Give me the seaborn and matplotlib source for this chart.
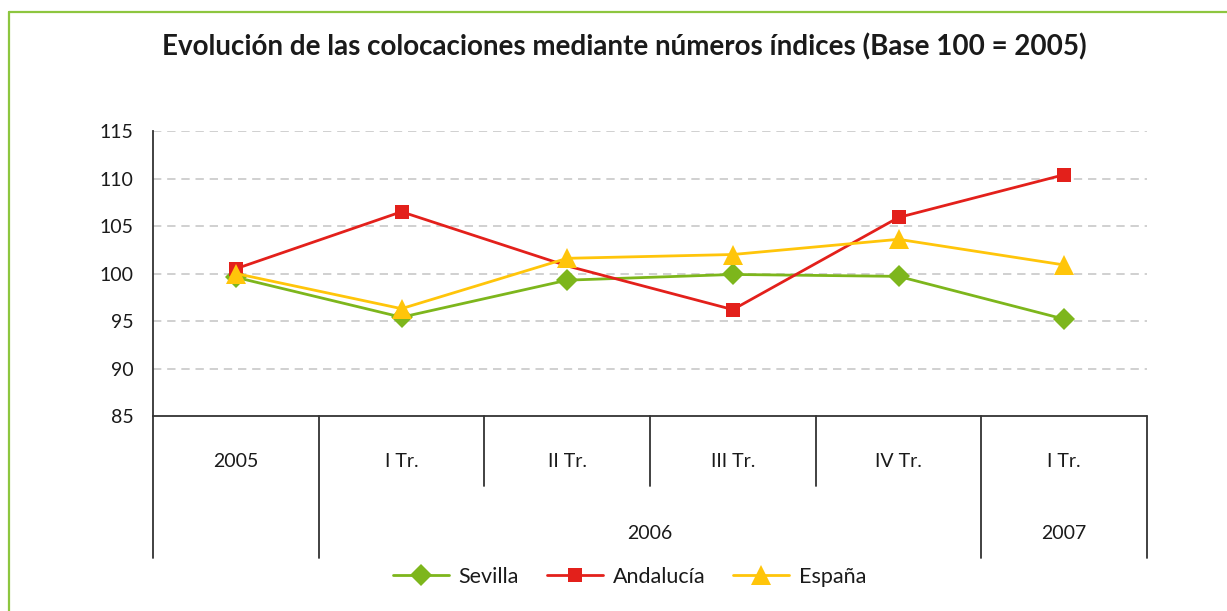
import pandas as pd
import seaborn as sns
import matplotlib.pyplot as plt
from matplotlib.lines import Line2D
import matplotlib.transforms as mtransforms

# Datos
periodos = ["2005", "I Tr.", "II Tr.", "III Tr.", "IV Tr.", "I Tr."]
anios = ["2006", "2007"]
sevilla = [99.6, 95.4, 99.3, 99.9, 99.7, 95.2]
andalucia = [100.5, 106.5, 100.8, 96.2, 105.9, 110.4]
espana = [100.0, 96.3, 101.6, 102.0, 103.6, 100.9]
yticks = [85, 90, 95, 100, 105, 110, 115]

verde = "#7db61c"
rojo = "#e3201b"
amarillo = "#ffc50a"

sns.set_style("white")
plt.rcParams["font.family"] = ["Lato", "DejaVu Sans"]

fig = plt.figure(figsize=(12.27, 6.11), dpi=100)
ax = fig.add_axes([0.1247, 0.3191, 0.8101, 0.4665])

pos = list(range(len(periodos)))
df = pd.DataFrame({"pos": pos, "Sevilla": sevilla, "Andalucía": andalucia, "España": espana})

sns.lineplot(data=df, x="pos", y="Sevilla", ax=ax, color=verde, marker="D",
             markersize=11, markeredgewidth=0, linewidth=2, label="Sevilla")
sns.lineplot(data=df, x="pos", y="Andalucía", ax=ax, color=rojo, marker="s",
             markersize=9.5, markeredgewidth=0, linewidth=2, label="Andalucía")
sns.lineplot(data=df, x="pos", y="España", ax=ax, color=amarillo, marker="^",
             markersize=15, markeredgewidth=0, linewidth=2, label="España")
# en el original no se ve el marcador de Andalucía en II Tr.
ax.lines[1].set_markevery([0, 1, 3, 4, 5])

ax.set_xlim(-0.5, 5.5)
ax.set_ylim(85, 115)
ax.set_yticks(yticks)
ax.set_yticklabels([str(v) for v in yticks], fontsize=14, color="#1a1a1a")
ax.set_xticks([])
ax.set_xlabel("")
ax.set_ylabel("")
for v in yticks[1:]:
    ax.axhline(v, color="#c8c8c8", linewidth=1.2, linestyle=(0, (5, 3.5)), zorder=0)
ax.tick_params(axis="y", direction="out", length=6, width=1.3, color="#333333", pad=8)
sns.despine(ax=ax, top=True, right=True)
ax.spines["left"].set_color("#333333")
ax.spines["left"].set_linewidth(1.3)
ax.spines["bottom"].set_visible(False)

# tabla de categorías bajo el eje
trans = mtransforms.blended_transform_factory(ax.transData, ax.transAxes)
ax.plot([-0.5, 5.5], [0, 0], transform=trans, color="#333333", lw=1.3, clip_on=False)
bordes = [-0.5, 0.5, 1.5, 2.5, 3.5, 4.5, 5.5]
for i, b in enumerate(bordes):
    fondo = -0.2456 if i in (2, 3, 4) else -0.498
    ax.plot([b, b], [0, fondo], transform=trans, color="#333333", lw=1.3, clip_on=False)
for p, lab in zip(pos, periodos):
    ax.text(p, -0.161, lab, transform=trans, ha="center", va="center", fontsize=14, color="#1a1a1a")
ax.text(2.5, -0.411, anios[0], transform=trans, ha="center", va="center", fontsize=14, color="#1a1a1a")
ax.text(5, -0.411, anios[1], transform=trans, ha="center", va="center", fontsize=14, color="#1a1a1a")

leg = ax.legend(loc="center", bbox_to_anchor=(0.513, 0.0556), bbox_transform=fig.transFigure,
                ncol=3, frameon=False, fontsize=15.5, handlelength=2.6, columnspacing=1.3,
                handletextpad=0.45)
for t in leg.get_texts():
    t.set_color("#1a1a1a")

fig.text(0.509, 0.923, "Evolución de las colocaciones mediante números índices (Base 100 = 2005)",
         ha="center", va="center", fontsize=20, fontweight="bold", color="#1a1a1a")

# marco verde superior e izquierdo
fig.add_artist(Line2D([0.0073, 1.0], [0.980, 0.980], transform=fig.transFigure, color="#8dc63f", lw=1.6))
fig.add_artist(Line2D([0.0073, 0.0073], [0.0, 0.980], transform=fig.transFigure, color="#8dc63f", lw=1.6))

fig.savefig("out.png", dpi=100)
